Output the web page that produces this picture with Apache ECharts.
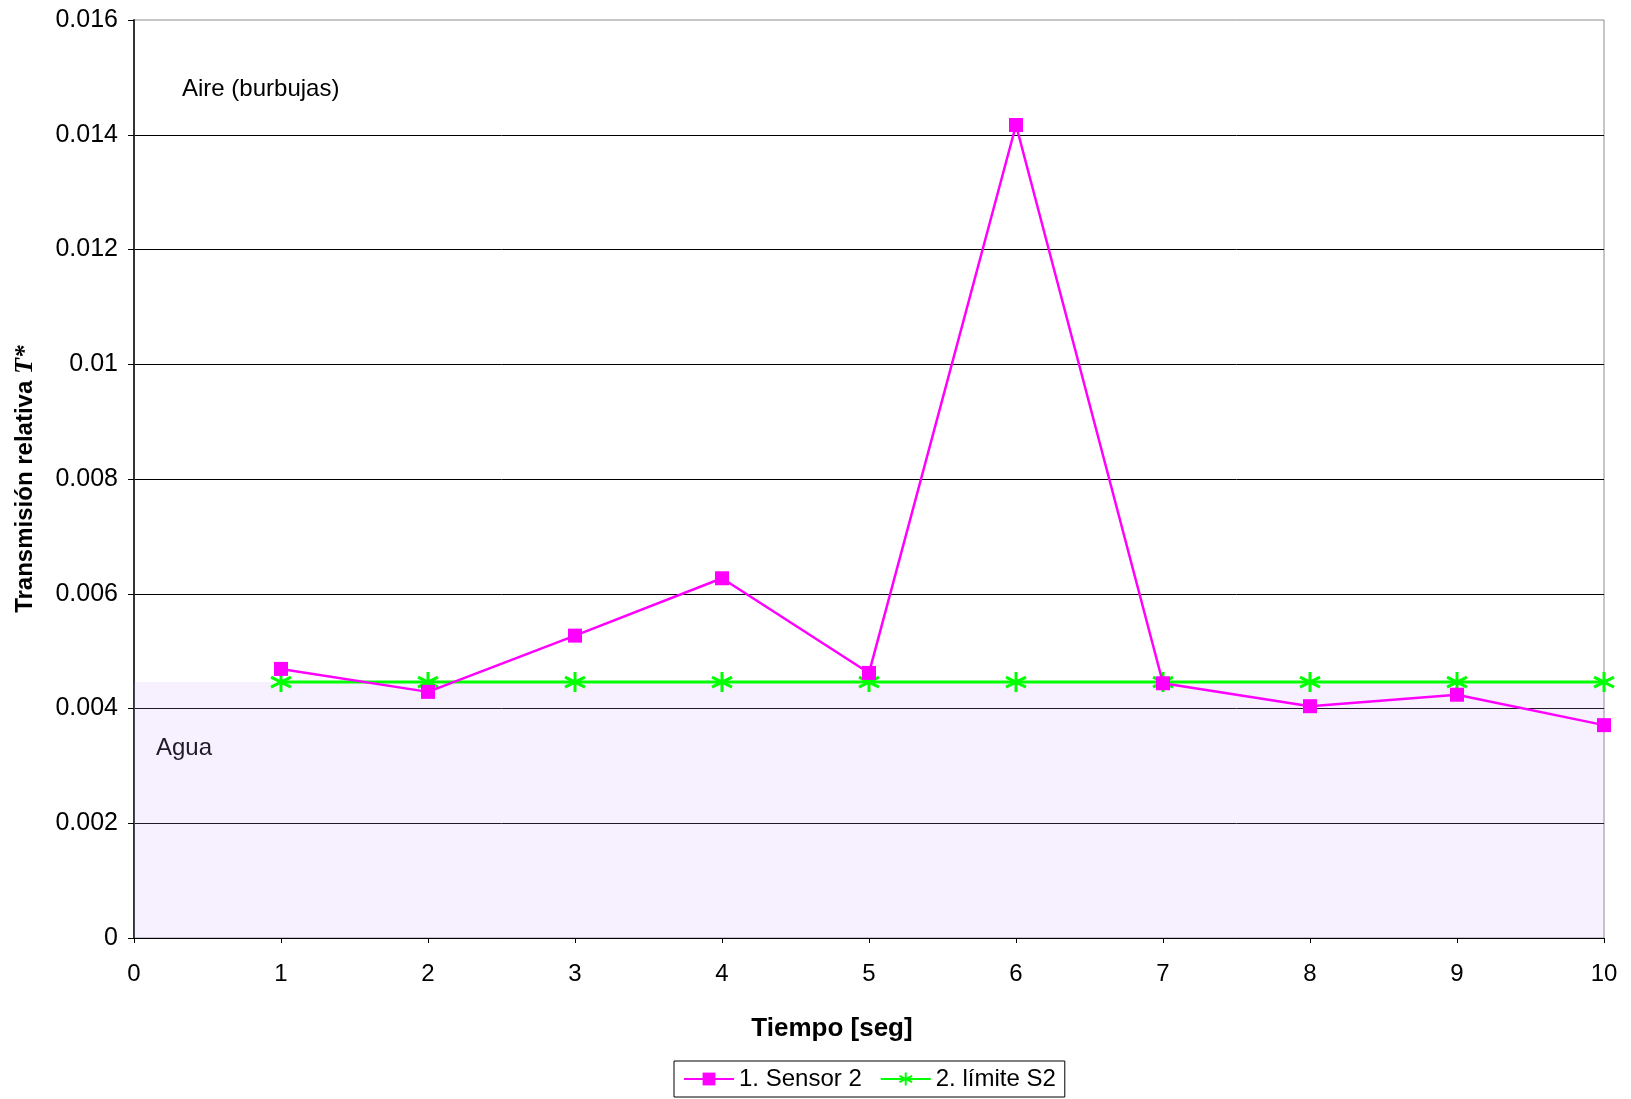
<!DOCTYPE html>
<html><head><meta charset="utf-8">
<script src="https://cdn.jsdelivr.net/npm/echarts@6/dist/echarts.min.js"></script>
<style>html,body{margin:0;padding:0;background:#fff}#c{width:1631px;height:1099px}</style>
</head><body><div id="c"></div>
<script>
const tiempo = [1,2,3,4,5,6,7,8,9,10];
const sensor2 = [0.00469,0.00429,0.00527,0.00627,0.00462,0.01417,0.00444,0.00404,0.00424,0.00371];
const limiteS2 = [0.00446,0.00446,0.00446,0.00446,0.00446,0.00446,0.00446,0.00446,0.00446,0.00446];
const aguaLimit = 0.00446;
const yTicks = [0,0.002,0.004,0.006,0.008,0.01,0.012,0.014,0.016];

const chart = echarts.init(document.getElementById('c'));
const F = 'Liberation Sans, Arial, sans-serif';
const star = 'path://M0,-10 L0,10 M-8.7,-5 L8.7,5 M-8.7,5 L8.7,-5';
chart.setOption({
  animation:false,
  backgroundColor:'#fff',
  textStyle:{fontFamily:F,color:'#000'},
  grid:{left:134,right:27,top:20,bottom:161,show:true,borderColor:'#8c8c8c',borderWidth:1,backgroundColor:'transparent'},
  legend:{left:674,top:1061,padding:[6,9],itemGap:18,itemWidth:50,itemHeight:16,
    borderColor:'#000',borderWidth:1,textStyle:{fontSize:24,fontFamily:F,color:'#000'},
    data:['1. Sensor 2','2. límite S2']},
  xAxis:{type:'value',min:0,max:10,interval:1,
    name:'Tiempo [seg]',nameLocation:'middle',nameGap:78,
    nameTextStyle:{fontSize:26,fontWeight:'bold',fontFamily:F,color:'#000',padding:[0,74,0,0]},
    axisLine:{lineStyle:{color:'#000',width:1}},
    axisTick:{show:true,length:5,lineStyle:{color:'#000'}},
    axisLabel:{fontSize:24,margin:24,color:'#000',fontFamily:F},
    splitLine:{show:false}},
  yAxis:{type:'value',min:0,max:0.016,interval:0.002,
    name:'{a|Transmisión relativa }{b|T*}',nameLocation:'middle',nameGap:96,nameRotate:90,
    nameTextStyle:{rich:{a:{fontSize:24,fontWeight:'bold',fontFamily:F,color:'#000'},
      b:{fontSize:26,fontWeight:'bold',fontStyle:'italic',fontFamily:'Liberation Serif, Times New Roman, serif',color:'#000'}}},
    axisLine:{show:true,lineStyle:{color:'#333',width:2}},
    axisTick:{show:true,length:6,lineStyle:{color:'#000'}},
    axisLabel:{fontSize:25,margin:16,color:'#000',fontFamily:F,
      formatter:v=>{const t=yTicks.find(x=>Math.abs(x-v)<1e-9);return String(+((t!==undefined?t:v).toFixed(3)));}},
    splitLine:{show:true,showMaxLine:false,lineStyle:{color:'#000',width:1}}},
  graphic:[
    {type:'text',left:182,top:77,style:{text:'Aire (burbujas)',font:'24px '+F,fill:'#000'}},
    {type:'text',left:156,top:736,style:{text:'Agua',font:'24px '+F,fill:'#000'}}
  ],
  series:[
    {name:'2. límite S2',type:'line',data:tiempo.map((t,i)=>[t,limiteS2[i]]),
      symbol:star,symbolSize:20,showAllSymbol:true,
      lineStyle:{color:'#00ff00',width:3},
      itemStyle:{color:'#00ff00',borderColor:'#00ff00',borderWidth:3},
      z:2,
      markArea:{silent:true,itemStyle:{color:'rgba(205,160,255,0.16)'},
        data:[[{coord:[0,0]},{coord:[10,aguaLimit]}]]}},
    {name:'1. Sensor 2',type:'line',data:tiempo.map((t,i)=>[t,sensor2[i]]),
      symbol:'rect',symbolSize:14,showAllSymbol:true,
      lineStyle:{color:'#ff00ff',width:2.5},
      itemStyle:{color:'#ff00ff'},z:3}
  ]
});
</script></body></html>
